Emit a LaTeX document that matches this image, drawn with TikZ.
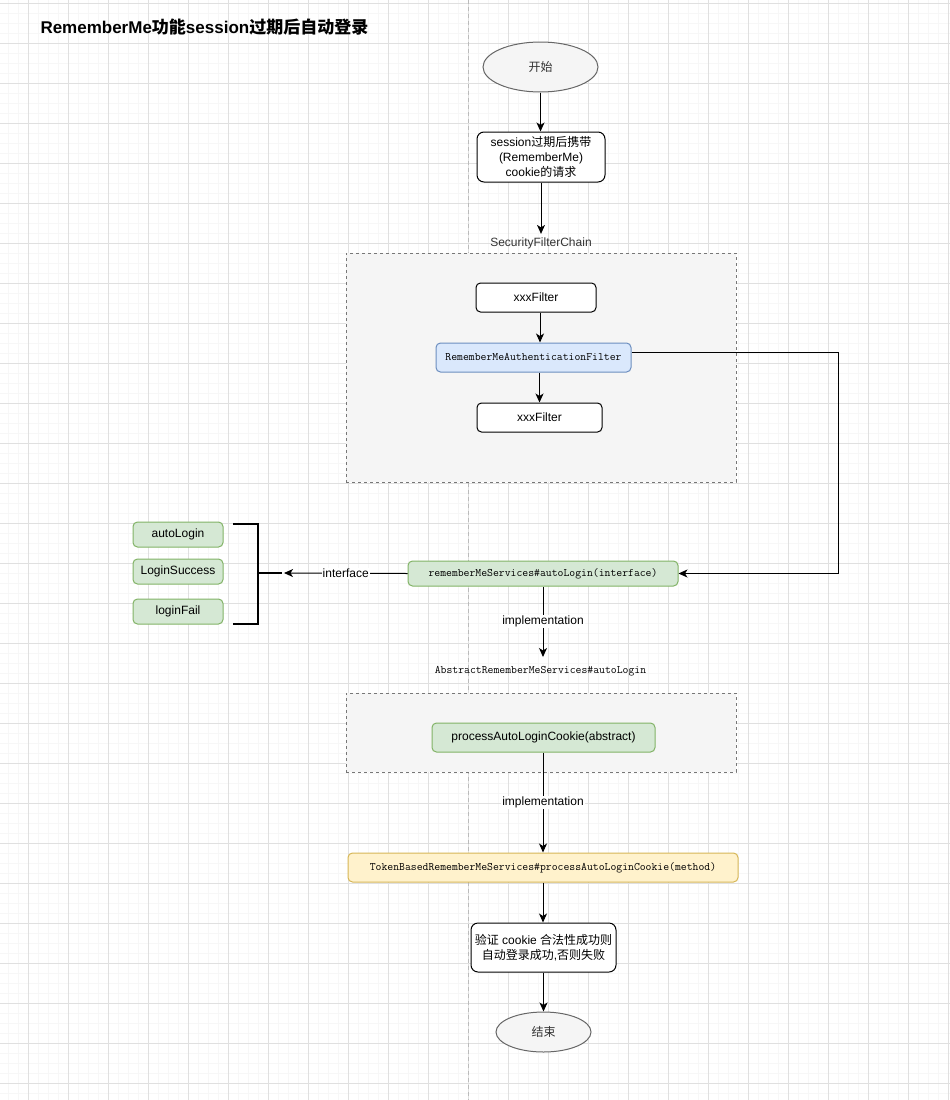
\documentclass[tikz,border=0pt]{standalone}
\usepackage{fontspec}
\setmainfont{Liberation Sans}
\newfontfamily\cjk{Noto Sans CJK SC}
\newfontfamily\monof{Latin Modern Mono}
\usetikzlibrary{shapes.geometric,arrows.meta,calc}
\definecolor{gridmaj}{HTML}{E0E0E0}
\definecolor{gridmin}{HTML}{F7F7F7}
\definecolor{contfill}{HTML}{F5F5F5}
\definecolor{contline}{HTML}{777777}
\definecolor{ellline}{HTML}{666666}
\definecolor{txtgray}{HTML}{333333}
\definecolor{bluefill}{HTML}{DAE8FC}
\definecolor{blueline}{HTML}{6C8EBF}
\definecolor{greenfill}{HTML}{D5E8D4}
\definecolor{greenline}{HTML}{82B366}
\definecolor{yelfill}{HTML}{FFF2CC}
\definecolor{yelline}{HTML}{D6B656}
\definecolor{guide}{HTML}{BBBBBB}
\begin{document}
\begin{tikzpicture}[x=1pt,y=-1pt,line width=1pt,
  sans/.style={font=\fontsize{12}{15}\selectfont},
  mono/.style={font=\monof\fontsize{11.4}{13}\selectfont},
  wbox/.style={draw=black, fill=white, rounded corners=4.5pt, inner sep=0pt, align=center, sans},
  bluebox/.style={draw=blueline, fill=bluefill, rounded corners=4.5pt, inner sep=0pt, align=center, mono},
  greenbox/.style={draw=greenline, fill=greenfill, rounded corners=4.5pt, inner sep=0pt, align=center},
  yelbox/.style={draw=yelline, fill=yelfill, rounded corners=4.5pt, inner sep=0pt, align=center, mono},
  ellip/.style={ellipse, draw=ellline, fill=contfill, inner sep=0pt, text=txtgray, sans},
  container/.style={draw=contline, fill=contfill, dash pattern=on 3pt off 3pt, inner sep=0pt},
  lbl/.style={inner sep=1pt, fill=white, sans},
  arr/.style={draw=black, line width=1pt, -{Stealth[length=9pt,width=8pt,inset=2.5pt]}},
  conn/.style={draw=black, line width=1pt}]
\useasboundingbox (0,0) rectangle (950,1100);
\fill[white] (0,0) rectangle (950,1100);
% grid
\foreach \x in {8,18,...,948} \draw[gridmin] (\x,0) -- (\x,1100);
\foreach \y in {3,13,...,1093} \draw[gridmin] (0,\y) -- (950,\y);
\foreach \x in {28,68,...,948} \draw[gridmaj] (\x,0) -- (\x,1100);
\foreach \y in {3,43,...,1083} \draw[gridmaj] (0,\y) -- (950,\y);
% guide line
\draw[guide, dash pattern=on 4pt off 3pt] (468,0) -- (468,1100);

% title
\node[anchor=west, inner sep=0pt, font=\bfseries\fontsize{17}{20}\selectfont] (title) at (40,27)
  {RememberMe{\cjk 功能}session{\cjk 过期后自动登录}};

% containers
\node[container, minimum width=390pt, minimum height=229pt] (c1) at (541,367.5) {};
\node[container, minimum width=390pt, minimum height=79pt] (c2) at (541,732.5) {};

% start
\node[ellip, minimum width=115pt, minimum height=50pt] (start) at (540.5,67) {\cjk 开始};
\node[wbox, minimum width=128pt, minimum height=50pt, rounded corners=7pt, font=\fontsize{12}{15}\selectfont] (req) at (541,157)
  {session{\cjk 过期后携带}\\(RememberMe)\\cookie{\cjk 的请求}};
\node[inner sep=2pt, text=txtgray, sans] (sfc) at (541,243) {SecurityFilterChain};

% filters
\node[wbox, minimum width=120pt, minimum height=29pt] (f1) at (536,297.5) {xxxFilter};
\node[bluebox, minimum width=195pt, minimum height=29pt] (rmaf) at (533.5,357.5) {RememberMeAuthenticationFilter};
\node[wbox, minimum width=125pt, minimum height=29pt] (f2) at (539.5,417.5) {xxxFilter};

% services
\node[greenbox, mono, minimum width=270pt, minimum height=25pt] (rms) at (543,573.5) {rememberMeServices\#autoLogin(interface)};
\node[greenbox, sans, minimum width=90pt, minimum height=25pt] (g1) at (178,534.5) {autoLogin};
\node[greenbox, sans, minimum width=90pt, minimum height=25pt] (g2) at (178,571.5) {LoginSuccess};
\node[greenbox, sans, minimum width=90pt, minimum height=25pt] (g3) at (178,611.5) {loginFail};
\node[inner sep=0pt, mono] (abs) at (540.5,671) {AbstractRememberMeServices\#autoLogin};

\node[greenbox, sans, minimum width=223pt, minimum height=29pt] (pal) at (543.5,737.5) {processAutoLoginCookie(abstract)};
\node[yelbox, minimum width=390pt, minimum height=29pt] (tb) at (543,867.5) {TokenBasedRememberMeServices\#processAutoLoginCookie(method)};
\node[wbox, minimum width=145pt, minimum height=49pt, rounded corners=7pt, font=\fontsize{12}{15.5}\selectfont] (ver) at (543.5,947.5)
  {{\cjk 验证} cookie {\cjk 合法性成功则}\\{\cjk 自动登录成功},{\cjk 否则失败}};
\node[ellip, minimum width=95pt, minimum height=40pt] (end) at (543.5,1032) {\cjk 结束};

% bracket
\coordinate (brtip) at (284,573);
\coordinate (turnx) at (838,0);
\draw[line width=2pt] (233,524) -- (258,524) -- (258,624) -- (233,624);
\draw[line width=2pt] (258,573) -- (282,573);

% connectors
\draw[arr] (start.south) -- (start.south |- req.north);
\draw[arr] (req.south) -- ([yshift=1pt]sfc.north -| req.south);
\draw[arr] ([xshift=4pt]f1.south) -- ([xshift=4pt]f1.south |- rmaf.north);
\draw[arr] (f2.north |- rmaf.south) -- (f2.north);
\draw[arr] ([yshift=5pt]rmaf.east) -- ([yshift=5pt]rmaf.east -| turnx) |- (rms.east);
\draw[arr] (rms.west) -- node[lbl]{interface} (brtip);
\draw[arr] (rms.south) -- node[lbl]{implementation} ([yshift=14pt]abs.center -| rms.south);
\draw[arr] (pal.south -| tb.north) -- node[lbl]{implementation} (tb.north);
\draw[arr] (tb.south) -- (tb.south |- ver.north);
\draw[arr] (ver.south) -- (ver.south |- end.north);
\end{tikzpicture}
\end{document}
